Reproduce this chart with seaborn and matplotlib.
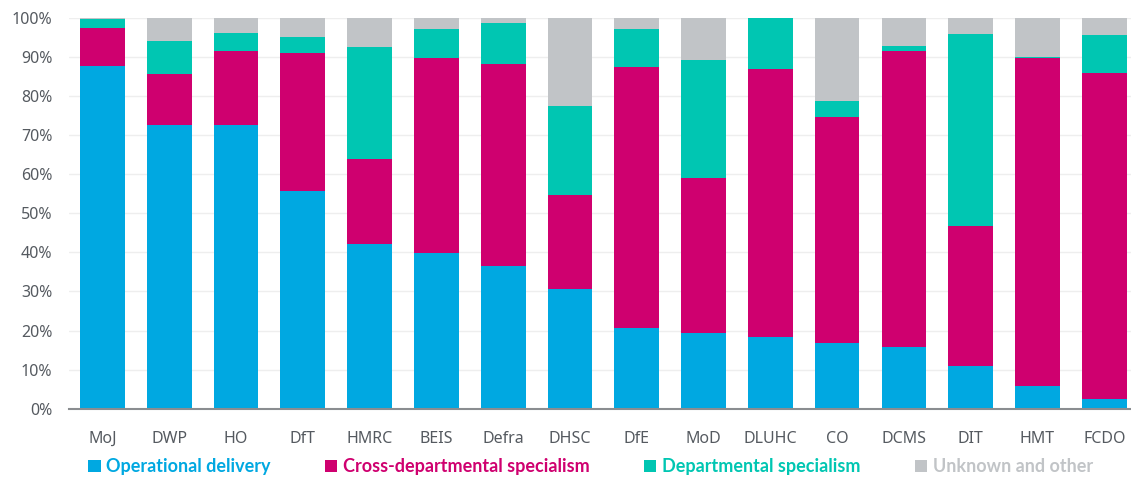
import matplotlib
matplotlib.use("Agg")
import matplotlib.pyplot as plt
import seaborn as sns
import numpy as np
from matplotlib.patches import Patch

departments = ["MoJ", "DWP", "HO", "DfT", "HMRC", "BEIS", "Defra", "DHSC",
               "DfE", "MoD", "DLUHC", "CO", "DCMS", "DIT", "HMT", "FCDO"]
operational = [87.7, 72.6, 72.6, 55.8, 42.2, 39.8, 36.5, 30.6, 20.7, 19.3, 18.3, 16.9, 15.8, 10.9, 5.7, 2.5]
cross_dept = [9.7, 13.1, 19.0, 35.2, 21.8, 50.0, 51.6, 24.0, 66.8, 39.6, 68.6, 57.8, 75.8, 35.8, 84.1, 83.3]
dept_spec = [2.2, 8.4, 4.6, 4.2, 28.6, 7.4, 10.6, 22.9, 9.7, 30.3, 13.1, 3.9, 1.3, 49.1, 0.2, 9.9]
unknown = [0.4, 5.9, 3.8, 4.8, 7.4, 2.8, 1.3, 22.5, 2.8, 10.8, 0.0, 21.4, 7.1, 4.2, 10.0, 4.3]

series_names = ["Operational delivery", "Cross-departmental specialism",
                "Departmental specialism", "Unknown and other"]
colors = ["#00A8E1", "#CF006F", "#00C6B2", "#C1C4C7"]

sns.set_theme(style="white")
plt.rcParams["font.family"] = ["Noto Sans", "DejaVu Sans"]

fig = plt.figure(figsize=(11.31, 4.82), dpi=100)
ax = fig.add_axes([0.061, 0.152, 0.939, 0.811])

layers = [operational, cross_dept, dept_spec, unknown]
cum = np.cumsum(np.array(layers), axis=0)
# draw tallest cumulative first so lower segments overlay
for i in range(3, -1, -1):
    sns.barplot(x=departments, y=cum[i], color=colors[i], width=0.67,
                saturation=1, ax=ax, zorder=2, linewidth=0)

ax.set_ylim(0, 100)
ax.set_xlim(-0.5, 15.4)
ax.set_yticks(np.arange(0, 101, 10))
ax.set_yticklabels([f"{v}%" for v in range(0, 101, 10)])
ax.yaxis.grid(True, color="#EEEEEE", linewidth=1, zorder=0)
ax.set_axisbelow(True)
for s in ["top", "right", "left"]:
    ax.spines[s].set_visible(False)
ax.spines["bottom"].set_color("#8A8D90")
ax.spines["bottom"].set_linewidth(1.5)
ax.tick_params(axis="both", length=0, labelsize=11.5, colors="#555A60")
ax.tick_params(axis="x", pad=16)
ax.tick_params(axis="y", pad=12)
ax.set_xlabel("")
ax.set_ylabel("")

handles = [Patch(facecolor=c, edgecolor="none") for c in colors]
leg = fig.legend(handles, series_names, loc="lower center", ncol=4,
                 bbox_to_anchor=(0.522, -0.02), frameon=False,
                 handlelength=0.7, handleheight=0.7, handletextpad=0.3,
                 columnspacing=3.0,
                 prop={"family": "Lato", "size": 13, "weight": "bold"})
for t, c in zip(leg.get_texts(), colors):
    t.set_color(c)

fig.savefig("out.png", dpi=100)
